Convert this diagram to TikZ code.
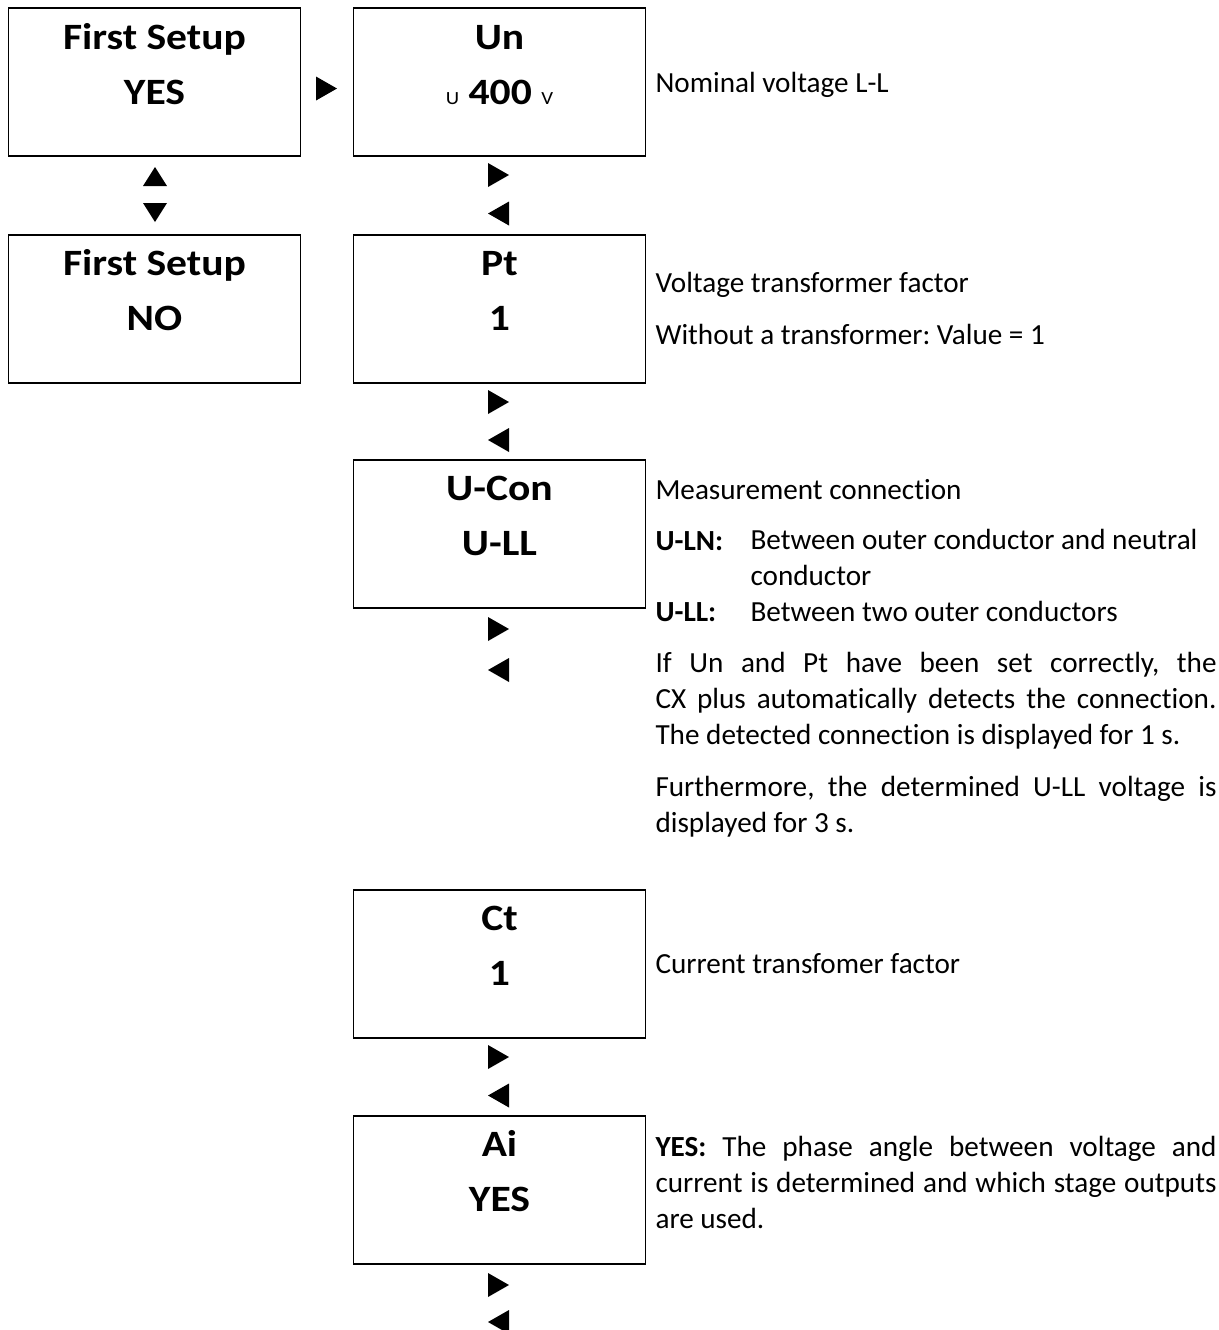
\documentclass[tikz,border=0pt]{standalone}
\usepackage{fontspec}
\setmainfont{Carlito}[Ligatures=NoCommon]
\newfontfamily\screenfont[FakeStretch=1.12, Ligatures=NoCommon]{Carlito}
\frenchspacing
\newdimen\pxu \pxu=0.377pt
\newcommand{\unitfont}{\fontsize{7}{8}\selectfont\mdseries}
\newcommand{\jline}[1]{\hbox to 561\pxu{#1}}
\newcommand{\keyright}[2]{\fill (#1-10.5,#2-12) -- (#1+10.5,#2) -- (#1-10.5,#2+12) -- cycle;}
\newcommand{\keyleft}[2]{\fill (#1+10.5,#2-12) -- (#1-10.5,#2) -- (#1+10.5,#2+12) -- cycle;}
\newcommand{\keyup}[2]{\fill (#1-12,#2+9.5) -- (#1,#2-9.5) -- (#1+12,#2+9.5) -- cycle;}
\newcommand{\keydown}[2]{\fill (#1-12,#2-9.5) -- (#1,#2+9.5) -- (#1+12,#2-9.5) -- cycle;}
\tikzset{
	screen/.style={draw, line width=0.75pt, minimum width=292*\pxu, minimum height=148*\pxu, inner sep=0pt},
	title/.style={anchor=base, inner sep=0pt, font=\screenfont\fontsize{14}{17}\selectfont\bfseries},
	desc/.style={anchor=base west, inner sep=0pt, align=left, font=\fontsize{11}{13.4}\selectfont}
}
\begin{document}
\begin{tikzpicture}[x=\pxu, y=-\pxu]
	\useasboundingbox (0,0) rectangle (1219,1330);

	% left column
	\node[screen] (fsyes) at (154.5,82) {};
	\node[title] (fsyes-name) at (154.5,49) {First Setup};
	\node[title] (fsyes-val) at (154.5,104) {YES};
	\node[screen] (fsno) at (154.5,308.5) {};
	\node[title] (fsno-name) at (154.5,275) {First Setup};
	\node[title] (fsno-val) at (154.5,330) {NO};
	\keyup{155}{176.5}
	\keydown{155}{212.5}
	\keyright{326.5}{88.5}

	% right column
	\node[screen] (un) at (499.5,82) {};
	\node[title] (un-name) at (499.5,49) {Un};
	\node[title] (un-val) at (499.5,104) {{\unitfont U} 400 {\unitfont V}};
	\node[screen] (pt) at (499.5,308.5) {};
	\node[title] (pt-name) at (499.5,275) {Pt};
	\node[title] (pt-val) at (499.5,330) {1};
	\node[screen] (ucon) at (499.5,533.5) {};
	\node[title] (ucon-name) at (499.5,500) {U-Con};
	\node[title] (ucon-val) at (499.5,555) {U-LL};
	\node[screen] (ct) at (499.5,963.5) {};
	\node[title] (ct-name) at (499.5,930) {Ct};
	\node[title] (ct-val) at (499.5,985) {1};
	\node[screen] (ai) at (499.5,1189.5) {};
	\node[title] (ai-name) at (499.5,1156) {Ai};
	\node[title] (ai-val) at (499.5,1211) {YES};
	\foreach \r/\l in {175/213.5, 402/440, 629/670, 1057/1095.5, 1285/1322} {
		\keyright{498.5}{\r}
		\keyleft{498.5}{\l}
	}

	% descriptions (multi-line nodes sit on their last baseline)
	\node[desc] (un-desc) at (655,92) {Nominal voltage L-L};
	\node[desc] (pt-desc) at (655,292) {Voltage transformer factor};
	\node[desc] (pt-note) at (655,344) {Without a transformer: Value = 1};
	\node[desc] (ucon-desc) at (655,499) {Measurement connection};
	\node[desc] (uln-key) at (655,550) {\textbf{U-LN:}};
	\node[desc] (uln-text) at (750,585.5) {Between outer conductor and neutral\\conductor};
	\node[desc] (ull-key) at (655,621) {\textbf{U-LL:}};
	\node[desc] (ull-text) at (750,621) {Between two outer conductors};
	\node[desc] (ucon-auto) at (655,744) {\jline{If Un and Pt have been set correctly, the}\\
		\jline{CX plus automatically detects the connection.}\\
		The detected connection is displayed for 1 s.};
	\node[desc] (ucon-volt) at (655,832.5) {\jline{Furthermore, the determined U-LL voltage is}\\
		displayed for 3 s.};
	\node[desc] (ct-desc) at (655,973) {Current transfomer factor};
	\node[desc] (ai-desc) at (655,1228) {\jline{\textbf{YES:} The phase angle between voltage and}\\
		\jline{current is determined and which stage outputs}\\
		are used.};
\end{tikzpicture}
\end{document}
